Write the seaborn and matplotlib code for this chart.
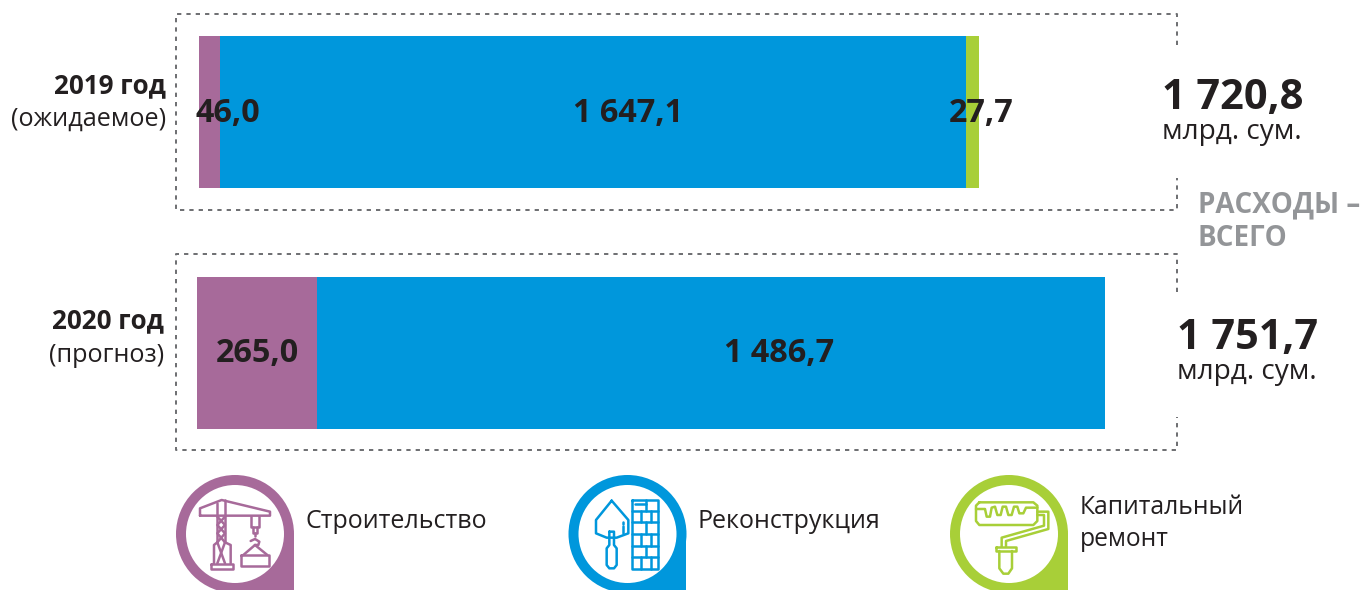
import matplotlib
matplotlib.use("Agg")
import matplotlib.pyplot as plt
from matplotlib.patches import Circle, Rectangle
import seaborn as sns

sns.set_theme(style="white")
plt.rcParams["font.family"] = ["Open Sans", "DejaVu Sans"]

# ---- data -------------------------------------------------------------
categories = ["Строительство", "Реконструкция", "Капитальный\nремонт"]
years = ["2019 год", "2020 год"]
year_notes = ["(ожидаемое)", "(прогноз)"]
# values printed on the chart
labels_2019 = ["46,0", "1 647,1", "27,7"]
labels_2020 = ["265,0", "1 486,7"]
totals = ["1 720,8", "1 751,7"]
# bar lengths as drawn in the picture (the 2020 blue bar is drawn longer than its printed value)
lengths_2019 = [46.0, 1647.1, 27.7]
lengths_2020 = [265.0, 1738.4]

PURPLE, BLUE, GREEN = "#a76a9a", "#0097dc", "#a8cf38"
INK, GREY, DASH = "#231f20", "#939598", "#6d6e71"
colors = [PURPLE, BLUE, GREEN]

W, H = 1361, 590
fig = plt.figure(figsize=(W / 100, H / 100), dpi=100, facecolor="white")


def px_axes(x0, y0, x1, y1):
    return fig.add_axes([x0 / W, 1 - y1 / H, (x1 - x0) / W, (y1 - y0) / H])


def stacked(ax, year, lengths):
    left = 0.0
    for v, c in zip(lengths, colors):
        sns.barplot(x=[v], y=[year], orient="y", left=left, color=c, saturation=1,
                    width=1, ax=ax, linewidth=0)
        left += v
    ax.set_xlim(0, left)
    ax.set_ylim(0.5, -0.5)
    ax.axis("off")


stacked(px_axes(199, 36, 979, 188), years[0], lengths_2019)
stacked(px_axes(197, 277, 1105, 429), years[1], lengths_2020)

# overlay in picture coordinates: frames, texts, legend icons
ov = fig.add_axes([0, 0, 1, 1], zorder=5)
ov.set_xlim(0, W)
ov.set_ylim(H, 0)
ov.axis("off")
ov.patch.set_alpha(0)


def dashed(xs, ys):
    ov.plot(xs, ys, color=DASH, lw=1.4, dashes=(2.2, 2.6), dash_capstyle="butt")


dashed([1177, 1177, 176, 176, 1177, 1177], [45, 14, 14, 210, 210, 178])
dashed([1177, 1177, 176, 176, 1177, 1177], [292, 254, 254, 450, 450, 417])


def t(x, y, s, size, weight="normal", color=INK, ha="left"):
    ov.text(x, y, s, fontsize=size, fontweight=weight, color=color, ha=ha, va="center")


# bar labels
for x, s in zip([228, 628, 981], labels_2019):
    t(x, 113, s, 23.3, "bold", ha="center")
for x, s in zip([257, 779], labels_2020):
    t(x, 353, s, 23.3, "bold", ha="center")

# row labels
t(166, 86, years[0], 18.7, "bold", ha="right")
t(166, 119, year_notes[0], 18.2, ha="right")
t(164, 321, years[1], 18.7, "bold", ha="right")
t(164, 355, year_notes[1], 18.2, ha="right")

# totals
t(1162, 99, totals[0], 29.9, "bold")
t(1162, 132, "млрд. сум.", 20.2)
t(1177, 338, totals[1], 29.9, "bold")
t(1177, 372, "млрд. сум.", 20.2)
t(1198, 205, "РАСХОДЫ –", 20, "bold", GREY)
t(1198, 239, "ВСЕГО", 20, "bold", GREY)

# legend
t(306, 521, categories[0], 18)
t(698, 521, categories[1], 18)
t(1080, 507, "Капитальный", 17.7)
t(1080, 540, "ремонт", 17.7)


def pin(cx, color):
    cy = 534
    ov.add_patch(Circle((cx, cy), 59, fc=color, ec="none"))
    ov.add_patch(Rectangle((cx, cy), 59, 56, fc=color, ec="none"))
    ov.add_patch(Circle((cx, cy), 49, fc="white", ec="none", zorder=3))


def stroke(ox, color, lw, *paths):
    for p in paths:
        ov.plot([ox + a / 3 for a, _ in p], [465 + b / 3 for _, b in p], color=color, lw=lw,
                solid_capstyle="round", solid_joinstyle="round", zorder=4)


# crane
pin(235, PURPLE)
stroke(160, PURPLE, 1.8,
       [(120, 152), (120, 130), (185, 105), (330, 140), (330, 152), (120, 152)],
       [(172, 115), (172, 232)], [(195, 105), (195, 232)],
       [(172, 155), (195, 180), (172, 205), (195, 232)], [(195, 155), (172, 180), (195, 205), (172, 232)],
       [(172, 232), (162, 240), (162, 295)], [(195, 232), (212, 240), (212, 295)],
       [(172, 232), (195, 295)], [(195, 232), (172, 295)],
       [(152, 296), (220, 296), (220, 312), (152, 312), (152, 296)],
       [(272, 152), (272, 185), (297, 185), (297, 152)], [(280, 185), (280, 205), (290, 205), (290, 185)],
       [(285, 205), (285, 212)],
       [(272, 228), (285, 222), (298, 230), (295, 240), (285, 240)],
       [(285, 240), (250, 270)], [(285, 240), (322, 270)],
       [(242, 270), (328, 270), (328, 302), (242, 302), (242, 270)])

# trowel and brick wall
pin(627.5, BLUE)
stroke(560, BLUE, 1.8,
       [(155, 107), (205, 165), (205, 205), (170, 218), (140, 218), (108, 205), (108, 165), (155, 107)],
       [(148, 200), (148, 240), (140, 250), (140, 300), (148, 310), (162, 310), (170, 300), (170, 250), (162, 240),
        (162, 200), (148, 200)],
       [(188, 172), (188, 176)], [(188, 184), (188, 205)],
       [(215, 105), (293, 105), (293, 312), (215, 312), (215, 105)],
       [(215, 138), (293, 138)], [(215, 172), (293, 172)], [(215, 207), (293, 207)],
       [(215, 242), (293, 242)], [(215, 276), (293, 276)],
       [(225, 117), (245, 117)], [(250, 117), (258, 117)],
       [(258, 105), (258, 138)], [(242, 138), (242, 172)], [(272, 138), (272, 172)],
       [(258, 172), (258, 207)], [(242, 207), (242, 242)], [(272, 207), (272, 242)],
       [(258, 242), (258, 276)], [(242, 276), (242, 312)], [(272, 276), (272, 312)])

# paint roller
pin(1009, GREEN)
stroke(940, GREEN, 1.8,
       [(118, 112), (280, 112), (292, 122), (292, 168), (280, 180), (118, 180), (108, 168), (108, 122), (118, 112)],
       [(108, 132), (135, 132), (140, 155), (150, 155), (155, 128), (165, 125), (172, 150), (182, 150), (188, 125),
        (198, 125), (205, 150), (215, 150), (222, 125), (232, 125), (238, 145), (250, 145), (258, 128), (292, 128)],
       [(292, 140), (325, 140), (325, 192), (198, 228), (198, 245)],
       [(292, 150), (312, 150), (312, 182), (185, 218), (185, 245)],
       [(168, 245), (228, 245), (228, 258), (168, 258), (168, 245)],
       [(178, 258), (178, 310), (190, 326), (205, 326), (216, 310), (216, 258)])

fig.savefig("out.png", dpi=100, facecolor="white")
